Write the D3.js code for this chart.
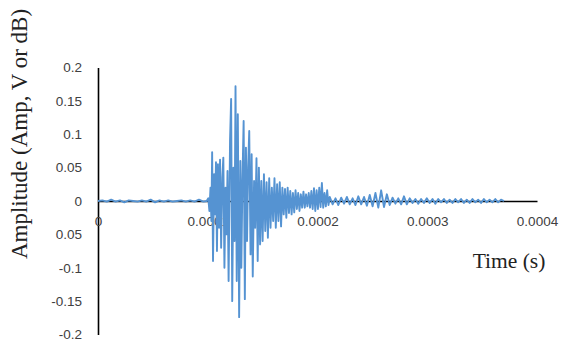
<!DOCTYPE html>
<html>
<head>
<meta charset="utf-8">
<script src="https://cdn.jsdelivr.net/npm/d3@7"></script>
<style>
  html, body { margin: 0; padding: 0; background: #fff; }
  svg { display: block; }
</style>
</head>
<body>
<svg id="chart" width="563" height="343"></svg>
<script>
// Acoustic emission hit: sample times (microseconds) and amplitudes (V)
const sampleTimes = [
  0, 4, 8, 12, 16, 20, 24, 28, 32, 36, 40, 44, 48, 52, 56, 60, 64, 68, 72, 76, 80, 84, 88, 92, 96, 99,
  100.5, 101.5, 102.5, 103.3, 104.0, 104.8, 105.8, 106.6, 107.5, 108.4, 109.3, 110.3, 111.2, 112.2,
  113.3, 114.2, 115.2, 116.2, 117.1, 118.0, 119.0, 120.3, 121.3, 122.3, 123.4, 124.4, 125.3, 126.4,
  127.4, 128.6, 129.7, 130.6, 131.6, 132.7, 133.8, 134.8, 135.8, 136.8, 137.8, 139.0, 140.0, 141.0,
  142.2, 143.2, 144.4, 145.5, 146.6, 147.7, 148.8, 150.0, 151.2, 152.4, 153.6, 154.8, 156.0, 157.2,
  158.4, 159.6, 160.8, 162.0, 163.2, 164.4, 165.6, 166.8, 168.0, 169.2, 170.4, 171.6, 172.8, 174.0,
  175.2, 176.4, 177.6, 178.8, 180.0, 181.2, 182.4, 183.6, 184.8, 186.0, 187.2, 188.4, 189.6, 190.8,
  192.0, 193.2, 194.4, 195.6, 196.8, 198.0, 199.2, 200.4, 201.6, 202.8, 204.0, 205.2, 206.4, 207.6,
  208.8, 210.0,
  211.2, 213.8, 216.4, 219.0, 221.6, 224.2, 226.8, 229.4, 232.0, 234.6, 237.2, 239.8, 242.4, 245.0,
  247.6, 250.2, 252.8, 255.4, 258.0, 260.6, 263.2, 265.8, 268.4, 271.0, 273.6, 276.2, 278.8, 281.4,
  284.0, 286.6, 289.2, 291.8, 294.4, 297.0, 299.6, 302.2, 304.8, 307.4, 310.0, 312.6, 315.2, 317.8,
  320.4, 323.0, 325.6, 328.2, 330.8, 333.4, 336.0, 338.6, 341.2, 343.8, 346.4, 349.0, 351.6, 354.2,
  356.8, 359.4, 362.0, 364.6, 367.2, 370.0
];
const sampleValues = [
  0.000, 0.001, -0.001, 0.002, -0.001, 0.001, -0.002, 0.001, 0.000, -0.001, 0.001, -0.001, 0.002,
  -0.002, 0.001, -0.001, 0.001, -0.001, 0.000, 0.001, -0.001, 0.001, -0.001, 0.002, -0.001, 0.000,
  0.004, -0.015, 0.020, -0.030, 0.073, -0.090, 0.040, -0.020, 0.058, -0.075, 0.055, -0.040, 0.062, -0.070,
  0.035, 0.065, -0.100, 0.020, -0.050, 0.045, -0.120, 0.090, 0.153, -0.150, 0.050, -0.060, 0.172, -0.120,
  0.130, -0.174, 0.060, -0.100, 0.030, 0.120, -0.147, 0.080, -0.060, 0.050, 0.105, -0.080, 0.070, -0.113,
  0.030, -0.040, 0.064, -0.090, 0.050, -0.065, 0.030, -0.060, 0.040, -0.045, 0.028, -0.055, 0.034, -0.040,
  0.020, -0.030, 0.034, -0.040, 0.025, -0.030, 0.028, -0.038, 0.020, -0.020, 0.018, -0.025, 0.020, -0.018,
  0.015, -0.020, 0.012, -0.017, 0.016, -0.012, 0.012, -0.015, 0.010, -0.010, 0.014, -0.010, 0.010, -0.008,
  0.012, -0.010, 0.015, -0.012, 0.019, -0.015, 0.016, -0.012, 0.020, -0.009, 0.027, -0.010, 0.012, -0.008,
  0.016, -0.006,
  0.006, -0.005, 0.004, -0.006, 0.005, -0.004, 0.006, -0.005, 0.004, -0.006, 0.007, -0.005, 0.006, -0.007,
  0.009, -0.008, 0.012, -0.010, 0.016, -0.009, 0.010, -0.006, 0.005, -0.004, 0.004, -0.005, 0.007, -0.005,
  0.004, -0.003, 0.003, -0.004, 0.003, -0.003, 0.004, -0.003, 0.003, -0.004, 0.003, -0.002, 0.003, -0.003,
  0.002, -0.003, 0.003, -0.002, 0.003, -0.003, 0.002, -0.003, 0.003, -0.002, 0.002, -0.003, 0.003, -0.002,
  0.002, -0.002, 0.003, -0.002, 0.002, 0.000
];

const xTickValues = [0, 0.0001, 0.0002, 0.0003, 0.0004];
const xTickLabels = ["0", "0.0001", "0.0002", "0.0003", "0.0004"];
const yTickValues = [0.2, 0.15, 0.1, 0.05, 0, -0.05, -0.1, -0.15, -0.2];
const yTickLabels = ["0.2", "0.15", "0.1", "0.05", "0", "0.05", "-0.1", "-0.15", "-0.2"];

const xTitle = "Time (s)";
const yTitle = "Amplitude (Amp, V or dB)";

const svg = d3.select("#chart");

const x = d3.scaleLinear().domain([0, 0.0004]).range([98, 537]);
const y = d3.scaleLinear().domain([-0.2, 0.2]).range([334.5, 67.5]);

const tickFont = "'Liberation Sans', Arial, sans-serif";
const titleFont = "'Liberation Serif', 'Times New Roman', serif";

// Vertical axis at x = 0
const yAxis = svg.append("g")
  .attr("transform", `translate(${x(0)},0)`)
  .call(d3.axisLeft(y)
    .tickValues(yTickValues)
    .tickFormat((d, i) => yTickLabels[i])
    .tickSize(0)
    .tickPadding(16));
yAxis.select(".domain").attr("stroke", "#000").attr("stroke-width", 1.6);
yAxis.selectAll("text")
  .attr("font-family", tickFont)
  .attr("font-size", 13.5)
  .attr("fill", "#404040");

// Horizontal axis through zero amplitude
const xAxis = svg.append("g")
  .attr("transform", `translate(0,${y(0)})`)
  .call(d3.axisBottom(x)
    .tickValues(xTickValues)
    .tickFormat((d, i) => xTickLabels[i])
    .tickSize(0)
    .tickPadding(15));
xAxis.select(".domain").attr("stroke", "#000").attr("stroke-width", 1.4);
xAxis.selectAll("text")
  .attr("font-family", tickFont)
  .attr("font-size", 13.5)
  .attr("fill", "#404040");

// Waveform
const line = d3.line()
  .x((d, i) => x(sampleTimes[i] * 1e-6))
  .y(d => y(d));

svg.append("path")
  .datum(sampleValues)
  .attr("d", line)
  .attr("fill", "none")
  .attr("stroke", "#5593d2")
  .attr("stroke-width", 1.9)
  .attr("stroke-linejoin", "round");

// Axis titles
svg.append("text")
  .attr("transform", "translate(27,134) rotate(-90)")
  .attr("text-anchor", "middle")
  .attr("font-family", titleFont)
  .attr("font-size", 23)
  .attr("fill", "#222")
  .text(yTitle);

svg.append("text")
  .attr("x", 509)
  .attr("y", 268)
  .attr("text-anchor", "middle")
  .attr("font-family", titleFont)
  .attr("font-size", 21.5)
  .attr("fill", "#222")
  .text(xTitle);
</script>
</body>
</html>
